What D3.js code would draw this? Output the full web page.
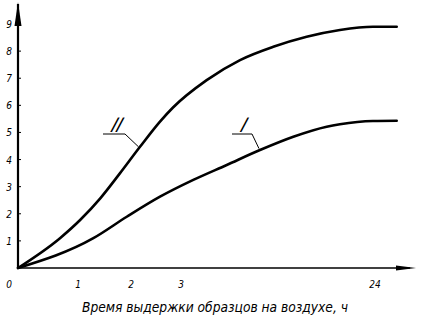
<!DOCTYPE html>
<html><head><meta charset="utf-8">
<script src="https://cdn.jsdelivr.net/npm/d3@7"></script>
<style>
html,body{margin:0;padding:0;background:#fff;}
text{font-family:"DejaVu Sans Condensed","DejaVu Sans",sans-serif;font-style:italic;fill:#000;}
</style></head>
<body><svg id="c" width="423" height="318"></svg>
<script>
const xTickValues = [0, 1, 2, 3, 24];
const xTickLabels = ["0", "1", "2", "3", "24"];
const yTickValues = [1, 2, 3, 4, 5, 6, 7, 8, 9];
const xTitle = "Время выдержки образцов на воздухе, ч";
const curveNames = ["I", "II"];
const hoursI = [0, 1.29, 1.92, 2.58, 4.33, 7.95, 11.55, 15.16, 18.77, 20.2, 23.78, 26.35];
const valuesI = [0, 1.10, 1.89, 2.63, 3.25, 3.80, 4.35, 4.84, 5.21, 5.30, 5.42, 5.43];
const hoursII = [0, 0.70, 1.04, 1.42, 1.79, 2.18, 2.58, 2.84, 5.78, 9.39, 12.99, 16.6, 20.2, 23.78, 26.35];
const valuesII = [0, 1.10, 1.77, 2.57, 3.49, 4.47, 5.40, 5.92, 6.93, 7.67, 8.16, 8.53, 8.78, 8.90, 8.90];

const svg = d3.select("#c");
const x = d3.scaleLinear().domain(xTickValues).range([18, 78, 131, 181, 375]);
const y = d3.scaleLinear().domain([0, 9]).range([268, 24]);

// axes
svg.append("line").attr("x1", 18).attr("x2", 18).attr("y1", 268).attr("y2", 4)
  .attr("stroke", "#000").attr("stroke-width", 2.2);
svg.append("path").attr("d", "M18,2 L21.5,26 L14.5,26 Z").attr("fill", "#000");
svg.append("line").attr("x1", 17).attr("x2", 410).attr("y1", 268).attr("y2", 268)
  .attr("stroke", "#000").attr("stroke-width", 1.6);
svg.append("path").attr("d", "M416,268 L396,265.5 L396,270.5 Z").attr("fill", "#000");

// y ticks
const yg = svg.append("g");
yTickValues.forEach(v => {
  yg.append("line").attr("x1", 18).attr("x2", 21).attr("y1", y(v)).attr("y2", y(v))
    .attr("stroke", "#000").attr("stroke-width", 1);
  yg.append("text").attr("x", 9).attr("y", y(v) + 4).attr("text-anchor", "middle")
    .attr("font-size", 10).text(v);
});
// x ticks
xTickValues.forEach((v, i) => {
  const px = v === 0 ? 9 : x(v);
  svg.append("text").attr("x", px).attr("y", 288).attr("text-anchor", "middle")
    .attr("font-size", 10).text(xTickLabels[i]);
});
svg.append("text").attr("x", 215).attr("y", 312).attr("text-anchor", "middle")
  .attr("font-size", 14.5).attr("textLength", 266).attr("lengthAdjust", "spacingAndGlyphs")
  .text(xTitle);

// curves
const line = d3.line().x(d => x(d[0])).y(d => y(d[1])).curve(d3.curveMonotoneX);
const dI = hoursI.map((h, i) => [h, valuesI[i]]);
const dII = hoursII.map((h, i) => [h, valuesII[i]]);
[dI, dII].forEach(d => {
  svg.append("path").attr("d", line(d)).attr("fill", "none").attr("stroke", "#000")
    .attr("stroke-width", 2.6).attr("stroke-linecap", "round");
});

// leaders
function leader(hx, hy, len, tx, ty, name, lx) {
  svg.append("polyline").attr("points", `${hx},${hy} ${hx + len},${hy} ${tx},${ty}`)
    .attr("fill", "none").attr("stroke", "#000").attr("stroke-width", 1);
  svg.append("text").attr("x", lx).attr("y", hy - 2).attr("text-anchor", "middle")
    .attr("font-size", 20).attr("textLength", name.length * 5)
    .attr("lengthAdjust", "spacingAndGlyphs")
    .attr("transform", `translate(${lx},${hy}) skewX(-20) translate(${-lx},${-hy})`)
    .text(name);
}
leader(103, 134, 22, x(2.18) - 1.5, y(4.47), "II", 114);
leader(232, 134, 20, x(11.55) - 1, y(4.35) - 1.5, "I", 241);
</script></body></html>
